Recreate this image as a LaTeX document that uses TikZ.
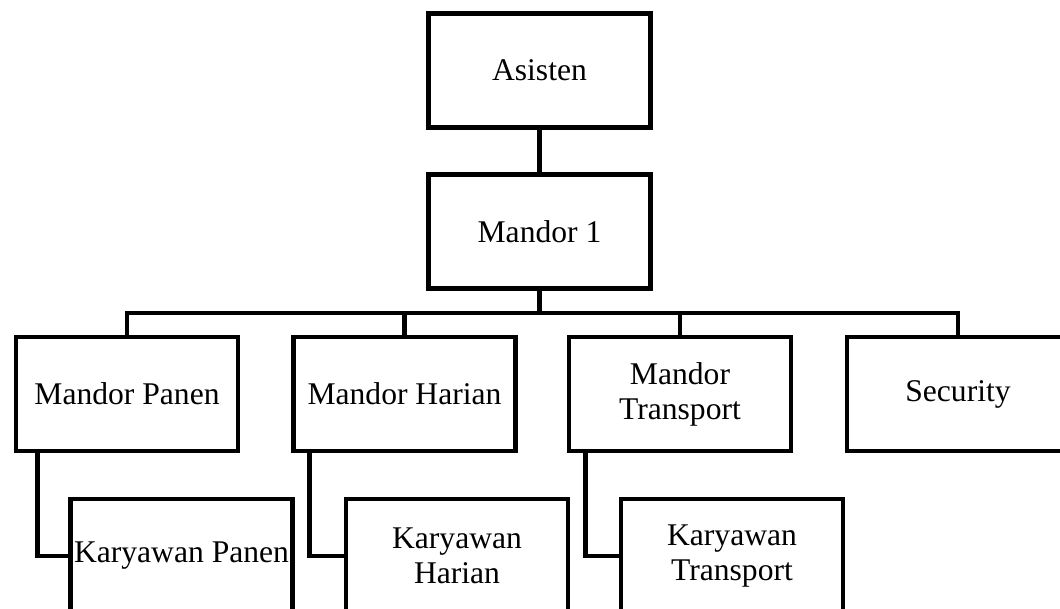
\documentclass[tikz,border=0pt]{standalone}
\usepackage{fontspec}
\setmainfont{Liberation Serif}
\begin{document}
\begin{tikzpicture}[x=0.5pt,y=-0.5pt,
  post/.style={draw,line width=2.4pt,minimum width=111pt,minimum height=57pt,
    inner xsep=1pt,align=center,font=\fontsize{15.8}{17.5}\selectfont},
  link/.style={line width=2.4pt}]
  \useasboundingbox (0,0) rectangle (1060,609);

  % Top part of the chart
  \node[post]   (asisten)    at (539.5,70.5) {Asisten};
  \node[post]   (mandor1)    at (539.5,231.5) {Mandor 1};
  \coordinate   (bus)        at (541,313);

  % Middle row
  \node[post]   (mpanen)     at (127,394)   {Mandor Panen};
  \node[post]   (mharian)    at (404.5,394) {Mandor Harian};
  \node[post]   (mtransport) at (680,394)   {Mandor\\Transport};
  \node[post]   (security)   at (958,394)   {Security};

  % Bottom row
  \node[post]   (kpanen)     at (181.5,556) {Karyawan Panen};
  \node[post]   (kharian)    at (457,556)   {Karyawan\\Harian};
  \node[post]   (ktransport) at (732,556)   {Karyawan\\Transport};

  % Connectors
  \draw[link] (asisten.south) -- (mandor1.north);
  \draw[link] (mandor1.south) -- (mandor1.south |- bus);
  \draw[link] (mpanen.north) |- (bus) -| (security.north);
  \draw[link] (mharian.north) -- (mharian.north |- bus);
  \draw[link] (mtransport.north) -- (mtransport.north |- bus);
  \draw[link] ([xshift=12pt]mpanen.south west) |- (kpanen.west);
  \draw[link] ([xshift=9pt]mharian.south west) |- (kharian.west);
  \draw[link] ([xshift=9.5pt]mtransport.south west) |- (ktransport.west);
\end{tikzpicture}
\end{document}
